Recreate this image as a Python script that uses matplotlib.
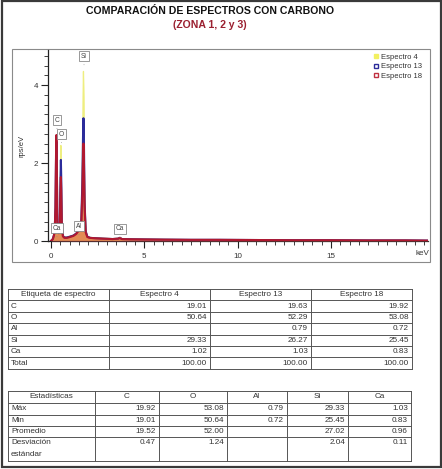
import matplotlib
matplotlib.use("Agg")
import matplotlib.pyplot as plt
from matplotlib.lines import Line2D
from matplotlib.patches import Rectangle

plt.rcParams['font.family'] = ['Liberation Sans', 'DejaVu Sans']

# ---------------- data ----------------
energy_kev = [0.00, 0.10, 0.16, 0.20, 0.24, 0.27, 0.29, 0.31, 0.34, 0.37, 0.42, 0.47,
              0.51, 0.53, 0.55, 0.58, 0.64, 0.72, 0.85, 1.00, 1.20, 1.35, 1.44, 1.49,
              1.54, 1.62, 1.68, 1.72, 1.74, 1.76, 1.80, 1.86, 1.95, 2.10, 2.40, 2.80,
              3.30, 3.60, 3.69, 3.80, 4.20, 5.00, 6.00, 7.50, 9.00, 11.0, 13.0, 15.0,
              17.0, 19.0, 20.2]
espectro4 = [0.00, 0.06, 0.16, 0.30, 0.90, 2.10, 2.60, 2.10, 0.50, 0.28, 0.22, 0.50,
             1.80, 2.45, 1.80, 0.45, 0.14, 0.10, 0.10, 0.12, 0.15, 0.20, 0.26, 0.32,
             0.30, 0.50, 1.90, 3.70, 4.35, 3.70, 1.30, 0.28, 0.12, 0.09, 0.08, 0.07,
             0.06, 0.07, 0.09, 0.06, 0.05, 0.045, 0.04, 0.035, 0.03, 0.025, 0.02, 0.02,
             0.015, 0.015, 0.01]
espectro13 = [0.00, 0.05, 0.15, 0.28, 0.85, 2.10, 2.55, 2.10, 0.50, 0.26, 0.21, 0.45,
              1.60, 2.08, 1.60, 0.42, 0.13, 0.09, 0.09, 0.11, 0.14, 0.19, 0.25, 0.31,
              0.28, 0.45, 1.50, 2.80, 3.15, 2.80, 1.00, 0.25, 0.11, 0.08, 0.07, 0.06,
              0.05, 0.06, 0.08, 0.05, 0.045, 0.04, 0.035, 0.03, 0.03, 0.025, 0.02, 0.02,
              0.015, 0.015, 0.01]
espectro18 = [0.00, 0.05, 0.15, 0.28, 0.85, 2.20, 2.72, 2.20, 0.50, 0.25, 0.20, 0.40,
              1.30, 1.64, 1.30, 0.40, 0.12, 0.08, 0.08, 0.10, 0.13, 0.18, 0.24, 0.30,
              0.26, 0.40, 1.20, 2.20, 2.50, 2.20, 0.90, 0.22, 0.10, 0.08, 0.07, 0.06,
              0.05, 0.06, 0.08, 0.05, 0.045, 0.04, 0.035, 0.03, 0.03, 0.025, 0.02, 0.02,
              0.015, 0.015, 0.01]
series_names = ["Espectro 4", "Espectro 13", "Espectro 18"]

peak_labels = ["Si", "C", "O", "Ca", "Al", "Ca"]
peak_label_x = [1.77, 0.32, 0.56, 0.32, 1.50, 3.70]
peak_label_y = [4.74, 3.10, 2.74, 0.33, 0.38, 0.31]

xticks_major = [0, 5, 10, 15]
yticks_major = [0, 2, 4]

t1_header = ["Etiqueta de espectro", "Espectro 4", "Espectro 13", "Espectro 18"]
t1_rows = ["C", "O", "Al", "Si", "Ca", "Total"]
t1_values = [["19.01", "19.63", "19.92"],
             ["50.64", "52.29", "53.08"],
             ["", "0.79", "0.72"],
             ["29.33", "26.27", "25.45"],
             ["1.02", "1.03", "0.83"],
             ["100.00", "100.00", "100.00"]]

t2_header = ["Estadísticas", "C", "O", "Al", "Si", "Ca"]
t2_rows = ["Máx", "Min", "Promedio", "Desviación\nestándar"]
t2_values = [["19.92", "53.08", "0.79", "29.33", "1.03"],
             ["19.01", "50.64", "0.72", "25.45", "0.83"],
             ["19.52", "52.00", "", "27.02", "0.96"],
             ["0.47", "1.24", "", "2.04", "0.11"]]

title1 = "COMPARACIÓN DE ESPECTROS CON CARBONO"
title2 = "(ZONA 1, 2 y 3)"

# ---------------- figure ----------------
W, H = 442, 469
fig = plt.figure(figsize=(W / 100, H / 100), dpi=100)

ov = fig.add_axes([0, 0, 1, 1], zorder=0)
ov.set_xlim(0, W)
ov.set_ylim(H, 0)
ov.axis('off')

# outer border and chart box
ov.add_patch(Rectangle((1.5, 1.5), W - 3, H - 3, fill=False, ec='#3a3a3a', lw=1.6))
ov.add_patch(Rectangle((12, 49), 418, 213, fill=False, ec='#8a8a8a', lw=0.8))

fig.text(210 / W, 1 - 11 / H, title1, ha='center', va='center',
         fontsize=7.6, fontweight='bold', color='#111111')
fig.text(210 / W, 1 - 25 / H, title2, ha='center', va='center',
         fontsize=7.6, fontweight='bold', color='#9b2030')

# ---------------- spectrum axes ----------------
ax_l, ax_r, ax_t, ax_b = 48, 428, 50, 241
ax = fig.add_axes([ax_l / W, 1 - ax_b / H, (ax_r - ax_l) / W, (ax_b - ax_t) / H], zorder=2)
ax.patch.set_alpha(0)
ax.set_xlim(-0.16, 20.2)
ax.set_ylim(0, 4.9)

ax.fill_between(energy_kev, espectro4, 0, color='#f4ef5a', lw=0, zorder=1)
ax.plot(energy_kev, espectro4, color='#eeee80', lw=0.9, zorder=1)
ax.plot(energy_kev, espectro13, color='#2b2b9a', lw=1.5, zorder=2)
ax.fill_between(energy_kev, espectro18, 0, color='#d84a50', alpha=0.6, lw=0, zorder=3)
ax.plot(energy_kev, espectro18, color='#b01830', lw=1.5, zorder=3)

for lab, lx, ly in zip(peak_labels, peak_label_x, peak_label_y):
    ax.annotate(lab, xy=(lx, ly - 0.22), xytext=(lx, ly), ha='center', va='center',
                fontsize=4.8, color='#444444', zorder=5,
                bbox=dict(boxstyle='square,pad=0.25', fc='white', ec='#888888', lw=0.6),
                arrowprops=dict(arrowstyle='-', color='#888888', lw=0.5))

for s in ['top', 'right']:
    ax.spines[s].set_visible(False)
for s in ['left', 'bottom']:
    ax.spines[s].set_color('#222222')
    ax.spines[s].set_linewidth(0.9)

ax.set_xticks(xticks_major)
ax.set_xticks([v * 0.5 for v in range(0, 41)], minor=True)
ax.set_yticks(yticks_major)
ax.set_yticks([v * 0.25 for v in range(0, 20)], minor=True)
ax.tick_params(axis='both', which='major', length=5, width=0.8, color='#222222',
               labelsize=5.8, labelcolor='#333333', direction='out')
ax.tick_params(axis='both', which='minor', length=3, width=0.6, color='#222222',
               direction='out')
ax.tick_params(axis='x', pad=4)
ax.tick_params(axis='y', pad=2)
ax.text(0.985, -0.065, "keV", transform=ax.transAxes, ha='center', va='center',
        fontsize=5.8, color='#333333')
ax.set_ylabel("rps/eV", fontsize=5.5, color='#333333', labelpad=6)

handles = [Line2D([], [], ls='none', marker='s', ms=3.2, mfc='#f2f060', mec='#f2f060'),
           Line2D([], [], ls='none', marker='s', ms=3.2, mfc='white', mec='#2b2b9a', mew=1),
           Line2D([], [], ls='none', marker='s', ms=3.2, mfc='white', mec='#c03040', mew=1)]
leg = ax.legend(handles, series_names, loc='upper right', fontsize=5.5, frameon=False,
                handlelength=0.8, handletextpad=0.3, labelspacing=0.25,
                borderaxespad=0.1, bbox_to_anchor=(0.995, 1.0))
for t in leg.get_texts():
    t.set_color('#333333')

# ---------------- tables ----------------
line_c = '#555555'
txt_c = '#333333'
fs_tab = 5.9

def draw_table(col_x, row_y, header, rows, values):
    x0, x1 = col_x[0], col_x[-1]
    for y in row_y:
        ov.plot([x0, x1], [y, y], color=line_c, lw=0.7)
    for x in col_x:
        ov.plot([x, x], [row_y[0], row_y[-1]], color=line_c, lw=0.7)
    yc = (row_y[0] + row_y[1]) / 2
    for j, h in enumerate(header):
        ov.text((col_x[j] + col_x[j + 1]) / 2, yc, h, ha='center', va='center',
                fontsize=fs_tab, color=txt_c)
    for i, r in enumerate(rows):
        ytop, ybot = row_y[i + 1], row_y[i + 2]
        parts = r.split('\n')
        if len(parts) > 1:
            for k, p in enumerate(parts):
                ov.text(col_x[0] + 3, ytop + 6 + 12 * k, p, ha='left', va='center',
                        fontsize=fs_tab, color=txt_c)
            yv = ytop + 5
        else:
            ov.text(col_x[0] + 3, (ytop + ybot) / 2, r, ha='left', va='center',
                    fontsize=fs_tab, color=txt_c)
            yv = (ytop + ybot) / 2
        for j, v in enumerate(values[i]):
            ov.text(col_x[j + 2] - 3, yv, v, ha='right', va='center',
                    fontsize=fs_tab, color=txt_c)

t1_cols = [8, 109, 210, 311, 412]
t1_rowy = [289, 300.4, 311.8, 323.2, 334.6, 346, 357.4, 369]
draw_table(t1_cols, t1_rowy, t1_header, t1_rows, t1_values)

t2_cols = [8, 95, 159, 227, 287, 348, 411]
t2_rowy = [391, 403, 415, 426, 437, 461]
draw_table(t2_cols, t2_rowy, t2_header, t2_rows, t2_values)

fig.savefig("out.png", dpi=100)
